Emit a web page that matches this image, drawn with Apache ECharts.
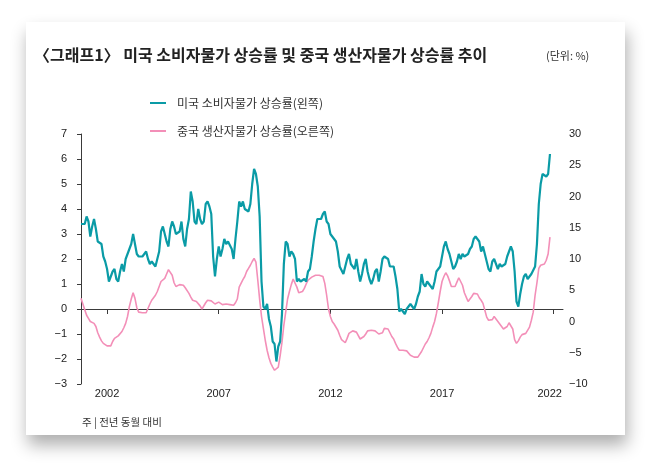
<!DOCTYPE html>
<html>
<head>
<meta charset="utf-8">
<script src="https://cdn.jsdelivr.net/npm/echarts@6/dist/echarts.min.js"></script>
<style>
  html, body { margin: 0; padding: 0; background: #fff; }
  #card {
    position: absolute; left: 26px; top: 22px; width: 599px; height: 413px;
    background: #fff; box-shadow: 2px 10px 16px rgba(0, 0, 0, 0.32);
  }
  #chart { position: absolute; left: 0; top: 0; width: 650px; height: 467px; }
</style>
</head>
<body>
<div id="card"></div>
<div id="chart"></div>
<script>
// monthly, starting 2000-10
var startYear = 2000, startMonth = 10, monthCount = 260;

// US CPI, YoY % (left axis)
var usCpi = [
  3.4, 3.4, 3.4,
  3.7, 3.5, 2.9, 3.3, 3.6, 3.2, 2.7, 2.7, 2.6, 2.1, 1.9, 1.6,   // 2001
  1.1, 1.1, 1.5, 1.6, 1.2, 1.1, 1.5, 1.8, 1.5, 2.0, 2.2, 2.4,   // 2002
  2.6, 3.0, 3.0, 2.2, 2.1, 2.1, 2.1, 2.2, 2.3, 2.0, 1.8, 1.9,   // 2003
  1.9, 1.7, 1.7, 2.3, 3.1, 3.3, 3.0, 2.7, 2.5, 3.2, 3.5, 3.3,   // 2004
  3.0, 3.0, 3.1, 3.5, 2.8, 2.5, 3.2, 3.6, 4.7, 4.3, 3.5, 3.4,   // 2005
  4.0, 3.6, 3.4, 3.5, 4.2, 4.3, 4.1, 3.8, 2.1, 1.3, 2.0, 2.5,   // 2006
  2.1, 2.4, 2.8, 2.6, 2.7, 2.7, 2.4, 2.0, 2.8, 3.5, 4.3, 4.1,   // 2007
  4.3, 4.0, 4.0, 3.9, 4.2, 5.0, 5.6, 5.4, 4.9, 3.7, 1.1, 0.1,   // 2008
  0.0, 0.2, -0.4, -0.7, -1.3, -1.4, -2.1, -1.5, -1.3, -0.2, 1.8, 2.7, // 2009
  2.6, 2.1, 2.3, 2.2, 2.0, 1.1, 1.2, 1.1, 1.1, 1.2, 1.1, 1.5,   // 2010
  1.6, 2.1, 2.7, 3.2, 3.6, 3.6, 3.6, 3.8, 3.9, 3.5, 3.4, 3.0,   // 2011
  2.9, 2.9, 2.7, 2.3, 1.7, 1.7, 1.4, 1.7, 2.0, 2.2, 1.8, 1.7,   // 2012
  1.6, 2.0, 1.5, 1.1, 1.4, 1.8, 2.0, 1.5, 1.2, 1.0, 1.2, 1.5,   // 2013
  1.6, 1.1, 1.5, 2.0, 2.1, 2.1, 2.0, 1.7, 1.7, 1.7, 1.3, 0.8,   // 2014
  -0.1, 0.0, -0.1, -0.2, 0.0, 0.1, 0.2, 0.2, 0.0, 0.2, 0.5, 0.7, // 2015
  1.4, 1.0, 0.9, 1.1, 1.0, 1.0, 0.8, 1.1, 1.5, 1.6, 1.7, 2.1,   // 2016
  2.5, 2.7, 2.4, 2.2, 1.9, 1.6, 1.7, 1.9, 2.2, 2.0, 2.2, 2.1,   // 2017
  2.1, 2.2, 2.4, 2.5, 2.8, 2.9, 2.9, 2.7, 2.3, 2.5, 2.2, 1.9,   // 2018
  1.6, 1.5, 1.9, 2.0, 1.8, 1.6, 1.8, 1.7, 1.7, 1.8, 2.1, 2.3,   // 2019
  2.5, 2.3, 1.5, 0.3, 0.1, 0.6, 1.0, 1.3, 1.4, 1.2, 1.2, 1.4,   // 2020
  1.4, 1.7, 2.6, 4.2, 5.0, 5.4, 5.4, 5.3, 5.4, 6.2              // 2021
];

// China PPI, YoY % (right axis)
var chinaPpi = [
  3.7, 2.8, 1.9,
  1.0, 0.5, 0.0, -0.2, -0.3, -0.8, -1.8, -2.5, -3.1, -3.5, -3.8, -3.9,   // 2001
  -3.9, -3.9, -3.2, -2.7, -2.5, -2.3, -2.2, -1.6, -1.0, -0.3, 0.8, 2.4,  // 2002
  3.6, 4.6, 3.7, 2.2, 1.5, 1.4, 1.4, 1.4, 1.4, 1.6, 2.8, 3.4,            // 2003
  3.8, 4.2, 4.8, 5.6, 6.4, 6.6, 6.9, 7.6, 8.3, 8.3, 7.4, 6.2,            // 2004
  5.6, 5.7, 5.9, 6.1, 5.8, 5.4, 5.1, 4.5, 3.9, 3.4, 3.3, 3.2,            // 2005
  3.0, 2.5, 2.0, 2.0, 3.0, 3.4, 3.4, 3.3, 3.0, 2.8, 2.9, 3.1,            // 2006
  3.2, 2.7, 2.6, 2.8, 2.9, 2.7, 2.6, 2.6, 3.0, 3.6, 5.5, 6.1,            // 2007
  6.7, 7.2, 8.0, 8.5, 9.0, 9.6, 10.1, 9.5, 6.6, 3.5, 0.8, -1.1,          // 2008
  -3.0, -4.6, -5.8, -6.7, -7.3, -7.8, -8.0, -7.3, -5.5, -3.3, -0.6, 1.5, // 2009
  3.6, 4.8, 5.9, 6.8, 7.0, 5.5, 4.6, 4.4, 4.8, 5.3, 6.0, 6.6,            // 2010
  6.9, 7.1, 7.3, 7.4, 7.5, 7.4, 7.4, 7.2, 6.1, 4.2, 2.0, 0.8,            // 2011
  0.0, -0.4, -0.7, -1.4, -2.2, -2.9, -3.2, -3.4, -2.7, -1.9, -1.6, -1.5, // 2012
  -1.5, -1.7, -2.0, -2.8, -2.7, -2.4, -2.0, -1.5, -1.4, -1.4, -1.4, -1.5, // 2013
  -1.7, -2.0, -2.2, -1.8, -1.1, -1.0, -1.2, -1.8, -2.4, -2.8, -3.5, -4.1, // 2014
  -4.6, -4.6, -4.6, -4.6, -4.7, -4.9, -5.4, -5.7, -5.7, -5.7, -5.7, -5.5, // 2015
  -4.8, -4.2, -3.6, -3.2, -2.6, -1.9, -0.9, 0.0, 1.3, 3.0, 4.8, 6.4,     // 2016
  7.2, 7.8, 7.3, 6.5, 5.6, 5.5, 5.6, 6.3, 7.0, 6.7, 5.8, 4.6,            // 2017
  3.9, 3.2, 3.4, 4.0, 4.5, 4.8, 4.4, 3.8, 3.4, 2.9, 1.8, 0.7,            // 2018
  0.2, 0.2, 0.3, 0.8, 0.5, 0.0, -0.4, -0.8, -1.2, -1.5, -0.8, -0.2,      // 2019
  0.0, -1.2, -2.9, -3.5, -3.1, -2.5, -2.1, -1.9, -1.9, -1.8, -0.9, 0.2,  // 2020
  1.5, 4.2, 6.2, 8.5, 9.0, 8.9, 9.2, 9.8, 10.8, 13.5                     // 2021
];

// year labels sit on the year boundary (last month of the previous year)
var yearTicks = ['2002', '2007', '2012', '2017', '2022'];

var months = [];
for (var k = 0; k < monthCount; k++) {
  var m = startMonth - 1 + k;
  var y = startYear + Math.floor(m / 12);
  var mm = (m % 12) + 1;
  months.push(y + '-' + (mm < 10 ? '0' + mm : mm));
}

var tickIndex = {};
yearTicks.forEach(function (yr) {
  var idx = months.indexOf((Number(yr) - 1) + '-12');
  if (idx >= 0) tickIndex[idx] = yr;
});
function isTick(i) { return tickIndex[i] !== undefined; }
var lastYear = yearTicks[yearTicks.length - 1];

var teal = '#0a9ba6';
var pink = '#f38fb8';
var numFont = '"Liberation Sans Narrow", "Liberation Sans", Arial, sans-serif';
var krFont = '"Noto Sans CJK KR", sans-serif';
var minus = function (v) { return String(v).replace('-', '\u2212'); };

var chart = echarts.init(document.getElementById('chart'));
chart.setOption({
  animation: false,
  title: [
    {
      text: '\u3008그래프1\u3009 미국 소비자물가 상승률 및 중국 생산자물가 상승률 추이',
      left: 34, top: 47, padding: 0,
      textStyle: { fontFamily: krFont, fontSize: 16, fontWeight: 'bold', color: '#222' }
    },
    {
      text: '(단위: %)',
      left: 546, top: 50, padding: 0,
      textStyle: { fontFamily: krFont, fontSize: 11, fontWeight: 'normal', color: '#333' }
    },
    {
      text: '주 | 전년 동월 대비',
      left: 82, top: 417, padding: 0,
      textStyle: { fontFamily: krFont, fontSize: 10.5, fontWeight: 'normal', color: '#333' }
    }
  ],
  legend: {
    orient: 'vertical',
    left: 150, top: 97, padding: 0,
    itemWidth: 16, itemHeight: 2, itemGap: 16,
    icon: 'rect',
    textStyle: { fontFamily: krFont, fontSize: 12, color: '#333', padding: [0, 0, 0, 6] },
    data: ['미국 소비자물가 상승률(왼쪽)', '중국 생산자물가 상승률(오른쪽)']
  },
  grid: { left: 81, right: 87, top: 134, bottom: 83 },
  xAxis: [
    {
      // zero line with year ticks
      type: 'category', data: months, boundaryGap: false, position: 'top',
      axisLine: { onZero: true, onZeroAxisIndex: 0, lineStyle: { color: '#3a3a3a', width: 1 } },
      axisTick: { inside: true, length: 5, interval: isTick, lineStyle: { color: '#3a3a3a' } },
      axisLabel: { show: false },
      splitLine: { show: false }
    },
    {
      type: 'category', data: months, boundaryGap: false, position: 'bottom',
      axisLine: { show: false, onZero: false },
      axisTick: { show: false },
      axisLabel: {
        interval: isTick, margin: 4,
        formatter: function (v, i) {
          var yr = tickIndex[i] || '';
          return yr === lastYear ? '{r|' + yr + '}' : yr;
        },
        rich: { r: { fontFamily: numFont, fontSize: 11, color: '#222', padding: [0, 8, 0, 0] } },
        fontFamily: numFont, fontSize: 11, color: '#222'
      },
      splitLine: { show: false }
    }
  ],
  yAxis: [
    {
      type: 'value', min: -3, max: 7, interval: 1,
      axisLine: { show: true, lineStyle: { color: '#3a3a3a', width: 1 } },
      axisTick: { show: true, length: 4, lineStyle: { color: '#3a3a3a' } },
      axisLabel: { margin: 14, formatter: minus, fontFamily: numFont, fontSize: 11, color: '#222' },
      splitLine: { show: false }
    },
    {
      type: 'value', min: -10, max: 30, interval: 5,
      axisLine: { show: false }, axisTick: { show: false },
      axisLabel: { margin: 6, formatter: minus, fontFamily: numFont, fontSize: 11, color: '#222' },
      splitLine: { show: false }
    }
  ],
  series: [
    {
      name: '미국 소비자물가 상승률(왼쪽)', type: 'line', data: usCpi,
      xAxisIndex: 0, yAxisIndex: 0, showSymbol: false, z: 3,
      itemStyle: { color: teal }, lineStyle: { color: teal, width: 2.2 }
    },
    {
      name: '중국 생산자물가 상승률(오른쪽)', type: 'line', data: chinaPpi,
      xAxisIndex: 0, yAxisIndex: 1, showSymbol: false, z: 2,
      itemStyle: { color: pink }, lineStyle: { color: pink, width: 1.6 }
    }
  ]
});
</script>
</body>
</html>
